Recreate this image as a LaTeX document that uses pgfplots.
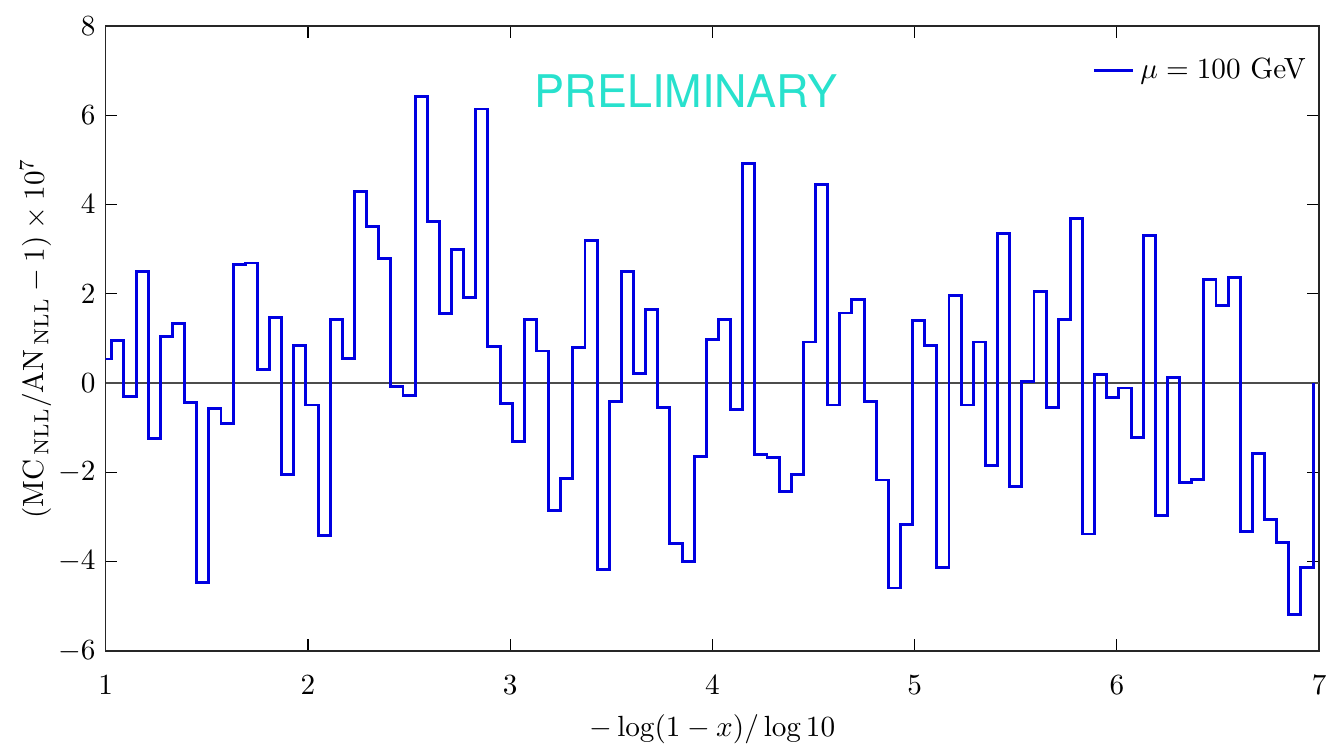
\documentclass[border=0pt]{standalone}
\usepackage{pgfplots}
\pgfplotsset{compat=1.18}
\usepackage{fontspec}
\newfontfamily\prelimfont{TeX Gyre Heros}
\definecolor{histblue}{RGB}{0,0,225}
\definecolor{prelim}{RGB}{40,225,205}
\begin{document}
\begin{tikzpicture}
\begin{axis}[
  scale only axis,
  width=415.5pt, height=214pt,
  xmin=1, xmax=7, ymin=-6, ymax=8,
  xtick={1,2,3,4,5,6,7},
  ytick={-6,-4,-2,0,2,4,6,8},
  tick align=inside,
  major tick length=4pt,
  tick style={black, line width=0.4pt},
  axis line style={black!85, line width=0.5pt},
  xticklabel style={yshift=-5pt},
  xlabel={$-\log(1-x)/\log 10$},
  ylabel={$(\mathrm{MC}_{\,\mathrm{NLL}}/\mathrm{AN}_{\,\mathrm{NLL}}-1)\times 10^{7}$},
  ylabel shift=-4.5pt,
  legend style={draw=none, fill=none, at={(1.0015,0.969)}, anchor=north east, font=\normalsize},
  legend cell align=left,
  legend image code/.code={\draw[#1] (0cm,0cm) -- (0.47cm,0cm);},
]
\coordinate (bl) at (rel axis cs:0,0);
\coordinate (tr) at (rel axis cs:1,1);
\addplot[black!70, line width=0.5pt, forget plot] coordinates {(1,0) (7,0)};
\addplot[const plot, histblue, line width=1pt] coordinates {
(0.97,0.54) (1.03,0.95) (1.09,-0.31) (1.15,2.51) (1.21,-1.24)
(1.27,1.04) (1.33,1.33) (1.39,-0.43) (1.45,-4.46) (1.51,-0.57)
(1.57,-0.90) (1.63,2.66) (1.69,2.69) (1.75,0.31) (1.81,1.47)
(1.87,-2.04) (1.93,0.84) (1.99,-0.49) (2.05,-3.42) (2.11,1.43)
(2.17,0.55) (2.23,4.29) (2.29,3.51) (2.35,2.80) (2.41,-0.07)
(2.47,-0.28) (2.53,6.42) (2.59,3.63) (2.65,1.56) (2.71,2.99)
(2.77,1.92) (2.83,6.14) (2.89,0.83) (2.95,-0.46) (3.01,-1.31)
(3.07,1.43) (3.13,0.72) (3.19,-2.85) (3.25,-2.14) (3.31,0.80)
(3.37,3.19) (3.43,-4.18) (3.49,-0.42) (3.55,2.49) (3.61,0.22)
(3.67,1.64) (3.73,-0.55) (3.79,-3.59) (3.85,-3.99) (3.91,-1.65)
(3.97,0.97) (4.03,1.42) (4.09,-0.60) (4.15,4.91) (4.21,-1.59)
(4.27,-1.66) (4.33,-2.42) (4.39,-2.05) (4.45,0.92) (4.51,4.44)
(4.57,-0.49) (4.63,1.57) (4.69,1.87) (4.75,-0.41) (4.81,-2.17)
(4.87,-4.59) (4.93,-3.17) (4.99,1.41) (5.05,0.85) (5.11,-4.14)
(5.17,1.97) (5.23,-0.49) (5.29,0.92) (5.35,-1.84) (5.41,3.36)
(5.47,-2.31) (5.53,0.03) (5.59,2.05) (5.65,-0.55) (5.71,1.43)
(5.77,3.69) (5.83,-3.38) (5.89,0.19) (5.95,-0.33) (6.01,-0.11)
(6.07,-1.22) (6.13,3.31) (6.19,-2.96) (6.25,0.13) (6.31,-2.22)
(6.37,-2.15) (6.43,2.33) (6.49,1.73) (6.55,2.36) (6.61,-3.32)
(6.67,-1.57) (6.73,-3.05) (6.79,-3.58) (6.85,-5.19) (6.91,-4.14)
(6.97,-4.14) (6.97,0)
};
\addlegendentry{$\mu = 100$ GeV}
\node[prelim, font=\prelimfont\fontsize{15.4}{18}\selectfont] at (axis cs:3.87,6.53) {PRELIMINARY};
\end{axis}
\pgfresetboundingbox
\path[use as bounding box] ([shift={(-36.2pt,-32.5pt)}]bl) rectangle ([shift={(2.7pt,8.9pt)}]tr);
\end{tikzpicture}
\end{document}
